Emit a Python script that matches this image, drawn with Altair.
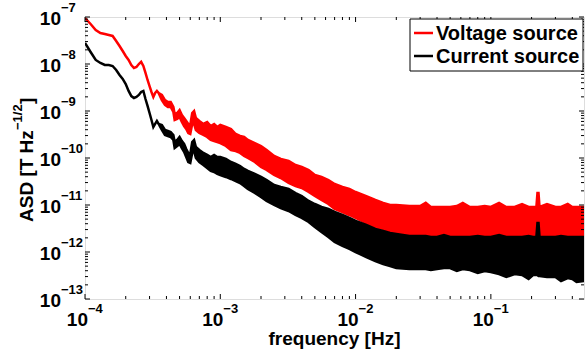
import altair as alt
import pandas as pd

FONT = "Liberation Sans"
W, H = 499, 282

# ---------------- data ----------------
freq = [
    1.0e-4, 1.1e-4, 1.2e-4, 1.3e-4, 1.4e-4, 1.5e-4, 1.6e-4, 1.7e-4, 1.8e-4, 1.9e-4,
    2.0e-4, 2.1e-4, 2.2e-4, 2.3e-4, 2.4e-4, 2.5e-4, 2.6e-4, 2.7e-4, 2.8e-4, 2.9e-4,
    3.0e-4, 3.1e-4, 3.2e-4, 3.3e-4, 3.4e-4, 3.5e-4, 3.7e-4, 3.9e-4, 4.1e-4, 4.3e-4,
    4.5e-4, 4.6e-4, 4.8e-4, 5.0e-4, 5.2e-4, 5.4e-4, 5.6e-4, 5.8e-4, 6.0e-4, 6.2e-4,
    6.4e-4, 6.6e-4,
    7.0e-4, 7.5e-4, 8.0e-4, 8.5e-4, 9.0e-4, 9.5e-4, 1.0e-3, 1.1e-3, 1.2e-3, 1.3e-3,
    1.4e-3, 1.5e-3, 1.6e-3, 1.8e-3, 2.0e-3, 2.2e-3, 2.5e-3, 2.8e-3, 3.2e-3, 3.6e-3,
    4.0e-3, 4.5e-3, 5.0e-3, 5.6e-3, 6.3e-3, 7.0e-3, 8.0e-3, 9.0e-3, 1.0e-2, 1.2e-2,
    1.4e-2, 1.6e-2, 1.8e-2, 2.0e-2, 2.5e-2,
    3.0e-2, 3.3e-2, 3.6e-2, 4.0e-2, 4.5e-2, 5.0e-2, 5.6e-2, 6.2e-2, 7.0e-2, 8.0e-2,
    9.0e-2, 1.0e-1, 1.15e-1, 1.3e-1, 1.5e-1, 1.7e-1, 1.9e-1, 2.05e-1, 2.17e-1, 2.21e-1,
    2.25e-1, 2.29e-1, 2.6e-1, 3.0e-1, 3.3e-1, 3.7e-1, 4.0e-1, 4.3e-1, 4.88e-1,
]

# Voltage source (red): upper and lower edge of the trace
red_hi = [
    9.52e-8, 7.10e-8, 5.30e-8, 4.57e-8, 4.35e-8, 4.14e-8, 3.95e-8, 3.09e-8, 2.42e-8, 1.89e-8,
    1.48e-8, 1.22e-8, 9.52e-9, 8.22e-9, 8.63e-9, 1.0e-8, 1.11e-8, 9.07e-9, 6.44e-9, 4.57e-9,
    3.40e-9, 2.54e-9, 1.99e-9, 2.42e-9, 2.67e-9, 2.42e-9, 2.19e-9, 1.71e-9, 1.55e-9, 1.55e-9,
    1.22e-9, 8.63e-10, 9.07e-10, 1.05e-9, 8.22e-10, 7.10e-10, 6.13e-10, 5.30e-10, 5.04e-10, 9.07e-10,
    1.0e-9, 7.10e-10,
    6.13e-10, 5.30e-10, 5.84e-10, 4.80e-10, 5.30e-10, 4.57e-10, 5.04e-10, 4.57e-10, 4.14e-10, 3.24e-10,
    2.94e-10, 2.80e-10, 2.42e-10, 2.08e-10, 1.80e-10, 1.48e-10, 1.11e-10, 9.52e-11, 8.63e-11, 7.10e-11,
    6.44e-11, 5.56e-11, 4.35e-11, 3.95e-11, 3.40e-11, 2.80e-11, 2.42e-11, 2.19e-11, 1.89e-11, 1.55e-11,
    1.28e-11, 1.11e-11, 1.0e-11, 1.0e-11, 9.52e-12,
    9.52e-12, 1.11e-11, 9.07e-12, 9.07e-12, 9.07e-12, 9.07e-12, 9.52e-12, 1.11e-11, 9.07e-12, 9.07e-12,
    9.52e-12, 9.07e-12, 1.11e-11, 9.07e-12, 9.07e-12, 1.05e-11, 9.07e-12, 9.07e-12, 9.07e-12, 1.80e-11,
    1.80e-11, 9.07e-12, 1.05e-11, 9.07e-12, 9.07e-12, 1.05e-11, 9.07e-12, 9.07e-12, 9.07e-12,
]
red_lo = [
    9.52e-8, 7.10e-8, 5.30e-8, 4.57e-8, 4.35e-8, 4.14e-8, 3.95e-8, 3.09e-8, 2.42e-8, 1.89e-8,
    1.48e-8, 1.22e-8, 9.52e-9, 8.22e-9, 8.63e-9, 1.0e-8, 1.11e-8, 9.07e-9, 6.44e-9, 4.57e-9,
    3.40e-9, 2.54e-9, 1.99e-9, 2.42e-9, 2.67e-9, 2.42e-9, 1.71e-9, 1.35e-9, 1.22e-9, 1.22e-9,
    9.52e-10, 6.44e-10, 6.76e-10, 7.45e-10, 5.84e-10, 4.80e-10, 4.14e-10, 3.40e-10, 3.24e-10, 5.30e-10,
    5.30e-10, 3.95e-10,
    3.40e-10, 3.09e-10, 2.80e-10, 2.42e-10, 2.30e-10, 2.19e-10, 2.08e-10, 1.80e-10, 1.48e-10, 1.41e-10,
    1.28e-10, 1.11e-10, 1.0e-10, 8.22e-11, 6.44e-11, 5.56e-11, 4.35e-11, 3.75e-11, 2.94e-11, 2.54e-11,
    2.30e-11, 1.89e-11, 1.55e-11, 1.28e-11, 1.05e-11, 8.22e-12, 7.10e-12, 6.13e-12, 5.30e-12, 4.14e-12,
    3.40e-12, 3.09e-12, 2.80e-12, 2.54e-12, 2.19e-12,
    2.19e-12, 2.19e-12, 2.08e-12, 2.08e-12, 2.08e-12, 2.08e-12, 2.08e-12, 2.08e-12, 2.08e-12, 2.08e-12,
    2.08e-12, 2.08e-12, 2.08e-12, 2.08e-12, 2.08e-12, 2.08e-12, 2.08e-12, 2.08e-12, 2.08e-12, 2.08e-12,
    2.08e-12, 2.08e-12, 2.08e-12, 2.08e-12, 2.08e-12, 2.08e-12, 1.99e-12, 1.99e-12, 1.99e-12,
]

# Current source (black): upper and lower edge of the trace
blk_hi = [
    2.80e-8, 1.80e-8, 1.22e-8, 1.05e-8, 9.52e-9, 9.52e-9, 9.07e-9, 7.45e-9, 5.84e-9, 4.80e-9,
    3.75e-9, 2.67e-9, 2.08e-9, 1.89e-9, 1.99e-9, 2.19e-9, 2.54e-9, 2.67e-9, 1.80e-9, 1.28e-9,
    9.07e-10, 6.44e-10, 4.57e-10, 5.30e-10, 6.13e-10, 5.30e-10, 5.04e-10, 3.95e-10, 3.75e-10, 3.58e-10,
    3.09e-10, 2.19e-10, 2.42e-10, 2.80e-10, 2.30e-10, 1.99e-10, 1.55e-10, 1.28e-10, 1.22e-10, 2.19e-10,
    2.42e-10, 1.71e-10,
    1.48e-10, 1.28e-10, 1.16e-10, 1.05e-10, 1.16e-10, 1.05e-10, 1.05e-10, 9.52e-11, 8.22e-11, 7.45e-11,
    6.76e-11, 5.84e-11, 5.30e-11, 4.57e-11, 3.95e-11, 3.40e-11, 2.67e-11, 2.42e-11, 2.19e-11, 1.80e-11,
    1.55e-11, 1.22e-11, 1.05e-11, 9.07e-12, 8.22e-12, 7.10e-12, 6.13e-12, 5.30e-12, 4.57e-12, 3.75e-12,
    3.09e-12, 2.80e-12, 2.54e-12, 2.42e-12, 2.19e-12,
    2.19e-12, 2.19e-12, 2.08e-12, 2.08e-12, 2.30e-12, 2.08e-12, 2.08e-12, 2.08e-12, 2.08e-12, 2.19e-12,
    2.08e-12, 2.08e-12, 2.30e-12, 2.08e-12, 2.08e-12, 2.08e-12, 2.19e-12, 2.08e-12, 2.08e-12, 4.14e-12,
    4.14e-12, 2.08e-12, 2.08e-12, 2.08e-12, 2.19e-12, 2.08e-12, 2.08e-12, 2.08e-12, 2.08e-12,
]
blk_lo = [
    2.80e-8, 1.80e-8, 1.22e-8, 1.05e-8, 9.52e-9, 9.52e-9, 9.07e-9, 7.45e-9, 5.84e-9, 4.80e-9,
    3.75e-9, 2.67e-9, 2.08e-9, 1.89e-9, 1.99e-9, 2.19e-9, 2.54e-9, 2.67e-9, 1.80e-9, 1.28e-9,
    9.07e-10, 6.44e-10, 4.57e-10, 5.30e-10, 6.13e-10, 5.30e-10, 3.95e-10, 3.09e-10, 2.94e-10, 2.80e-10,
    2.42e-10, 1.63e-10, 1.80e-10, 1.99e-10, 1.63e-10, 1.35e-10, 1.05e-10, 8.22e-11, 7.83e-11, 1.28e-10,
    1.41e-10, 1.0e-10,
    8.22e-11, 7.10e-11, 6.13e-11, 5.30e-11, 5.04e-11, 4.57e-11, 4.35e-11, 3.95e-11, 3.58e-11, 3.24e-11,
    2.94e-11, 2.54e-11, 2.19e-11, 1.80e-11, 1.48e-11, 1.22e-11, 1.0e-11, 8.63e-12, 7.45e-12, 6.13e-12,
    5.30e-12, 4.35e-12, 3.40e-12, 2.67e-12, 2.08e-12, 1.63e-12, 1.35e-12, 1.16e-12, 1.0e-12, 7.83e-13,
    6.44e-13, 5.56e-13, 5.04e-13, 4.57e-13, 4.35e-13,
    4.35e-13, 4.35e-13, 4.14e-13, 4.35e-13, 4.57e-13, 4.57e-13, 3.95e-13, 4.35e-13, 4.14e-13, 3.58e-13,
    3.95e-13, 3.75e-13, 3.40e-13, 2.94e-13, 3.40e-13, 3.24e-13, 2.67e-13, 3.24e-13, 3.24e-13, 3.24e-13,
    3.09e-13, 3.09e-13, 2.94e-13, 2.94e-13, 2.42e-13, 2.80e-13, 2.67e-13, 2.30e-13, 2.42e-13,
]

series_names = ["Voltage source", "Current source"]
series_colors = ["#ff0000", "#000000"]

x_major = [1e-4, 1e-3, 1e-2, 1e-1]
x_labels_exp = ["\u22124", "\u22123", "\u22122", "\u22121"]
y_major = [1e-13, 1e-12, 1e-11, 1e-10, 1e-9, 1e-8, 1e-7]
y_labels_exp = ["\u221213", "\u221212", "\u221211", "\u221210", "\u22129", "\u22128", "\u22127"]
minor_mant = [2, 3, 4, 5, 6, 7, 8, 9]
x_minor = [m * d for d in [1e-4, 1e-3, 1e-2, 1e-1] for m in minor_mant if m * d < 0.488]
y_minor = [m * d for d in [1e-13, 1e-12, 1e-11, 1e-10, 1e-9, 1e-8] for m in minor_mant]

x_title = "frequency [Hz]"
y_title_main = "ASD [T Hz"
y_title_sup = "\u22121/2"
y_title_end = "]"

# ---------------- chart ----------------
xs = alt.Scale(type="log", domain=[1e-4, 0.488], nice=False)
ys = alt.Scale(type="log", domain=[1e-13, 1e-7], nice=False)


def band(name, color, hi, lo):
    df = pd.DataFrame({"f": freq, "hi": hi, "lo": lo, "series": name})
    return alt.Chart(df).mark_area(color=color, stroke=color, strokeWidth=2.5, opacity=1,
                                   clip=True, interpolate="linear").encode(
        x=alt.X("f:Q", scale=xs, axis=None),
        y=alt.Y("hi:Q", scale=ys, axis=None),
        y2="lo:Q",
    )


layers = [band(series_names[0], series_colors[0], red_hi, red_lo),
          band(series_names[1], series_colors[1], blk_hi, blk_lo)]


def xticks(vals, length):
    d = pd.DataFrame({"f": vals})
    b = alt.Chart(d).mark_rule(color="black", strokeWidth=1).encode(
        x=alt.X("f:Q", scale=xs, axis=None), y=alt.value(H), y2=alt.value(H - length))
    t = alt.Chart(d).mark_rule(color="black", strokeWidth=1).encode(
        x=alt.X("f:Q", scale=xs, axis=None), y=alt.value(0), y2=alt.value(length))
    return [b, t]


def yticks(vals, length):
    d = pd.DataFrame({"v": vals})
    l = alt.Chart(d).mark_rule(color="black", strokeWidth=1).encode(
        y=alt.Y("v:Q", scale=ys, axis=None), x=alt.value(0), x2=alt.value(length))
    r = alt.Chart(d).mark_rule(color="black", strokeWidth=1).encode(
        y=alt.Y("v:Q", scale=ys, axis=None), x=alt.value(W), x2=alt.value(W - length))
    return [l, r]


layers += xticks(x_major, 5) + xticks(x_minor, 3) + yticks(y_major, 5) + yticks(y_minor, 3)

# tick labels: "10" with a superscript exponent
xl = pd.DataFrame({"f": x_major, "base": "10", "exp": x_labels_exp})
layers.append(alt.Chart(xl).mark_text(align="right", baseline="alphabetic", dx=3, font=FONT,
                                      fontSize=19, fontWeight="bold", color="black").encode(
    x=alt.X("f:Q", scale=xs, axis=None), y=alt.value(309), text="base:N"))
layers.append(alt.Chart(xl).mark_text(align="left", baseline="alphabetic", dx=3, font=FONT,
                                      fontSize=13, fontWeight="bold", color="black").encode(
    x=alt.X("f:Q", scale=xs, axis=None), y=alt.value(296), text="exp:N"))

yl = pd.DataFrame({"v": y_major, "base": "10", "exp": y_labels_exp})
layers.append(alt.Chart(yl).mark_text(align="right", baseline="alphabetic", dy=8, font=FONT,
                                      fontSize=19, fontWeight="bold", color="black").encode(
    y=alt.Y("v:Q", scale=ys, axis=None), x=alt.value(-24), text="base:N"))
layers.append(alt.Chart(yl).mark_text(align="left", baseline="alphabetic", dy=-5, font=FONT,
                                      fontSize=13, fontWeight="bold", color="black").encode(
    y=alt.Y("v:Q", scale=ys, axis=None), x=alt.value(-24), text="exp:N"))

# axis titles
layers.append(alt.Chart(pd.DataFrame({"t": [x_title]})).mark_text(
    align="center", baseline="alphabetic", font=FONT, fontSize=19, fontWeight="bold", color="black").encode(
    x=alt.value(W / 2), y=alt.value(328), text="t:N"))
layers.append(alt.Chart(pd.DataFrame({"t": [y_title_main]})).mark_text(
    align="left", baseline="alphabetic", angle=270, font=FONT, fontSize=19, fontWeight="bold", color="black").encode(
    x=alt.value(-52), y=alt.value(205), text="t:N"))
layers.append(alt.Chart(pd.DataFrame({"t": [y_title_sup]})).mark_text(
    align="left", baseline="alphabetic", angle=270, font=FONT, fontSize=13, fontWeight="bold", color="black").encode(
    x=alt.value(-63), y=alt.value(113), text="t:N"))
layers.append(alt.Chart(pd.DataFrame({"t": [y_title_end]})).mark_text(
    align="left", baseline="alphabetic", angle=270, font=FONT, fontSize=19, fontWeight="bold", color="black").encode(
    x=alt.value(-52), y=alt.value(87), text="t:N"))

# legend box (boxed, top right, MATLAB style)
legend_df = pd.DataFrame({"series": series_names, "color": series_colors})
layers.append(alt.Chart(legend_df.head(1)).mark_rect(fill="white", stroke="black", strokeWidth=1).encode(
    x=alt.value(325), x2=alt.value(498), y=alt.value(2), y2=alt.value(54)))
for i, (name, color) in enumerate(zip(series_names, series_colors)):
    row = legend_df.iloc[[i]]
    ry = 16 + 23 * i
    layers.append(alt.Chart(row).mark_rule(color=color, strokeWidth=2.5).encode(
        x=alt.value(329), x2=alt.value(348), y=alt.value(ry)))
    layers.append(alt.Chart(row).mark_text(align="left", baseline="middle", font=FONT, fontSize=20,
                                           fontWeight="bold", color="black").encode(
        x=alt.value(351), y=alt.value(ry + 1), text="series:N"))

chart = alt.layer(*layers).properties(
    width=W, height=H,
    autosize=alt.AutoSizeParams(type="none"),
    padding={"left": 85, "top": 17, "right": 2, "bottom": 54},
    background="white",
).configure_view(stroke="black", strokeWidth=1.5).configure(font=FONT)

chart.save("out.html", embed_options={"renderer": "svg", "actions": False})
